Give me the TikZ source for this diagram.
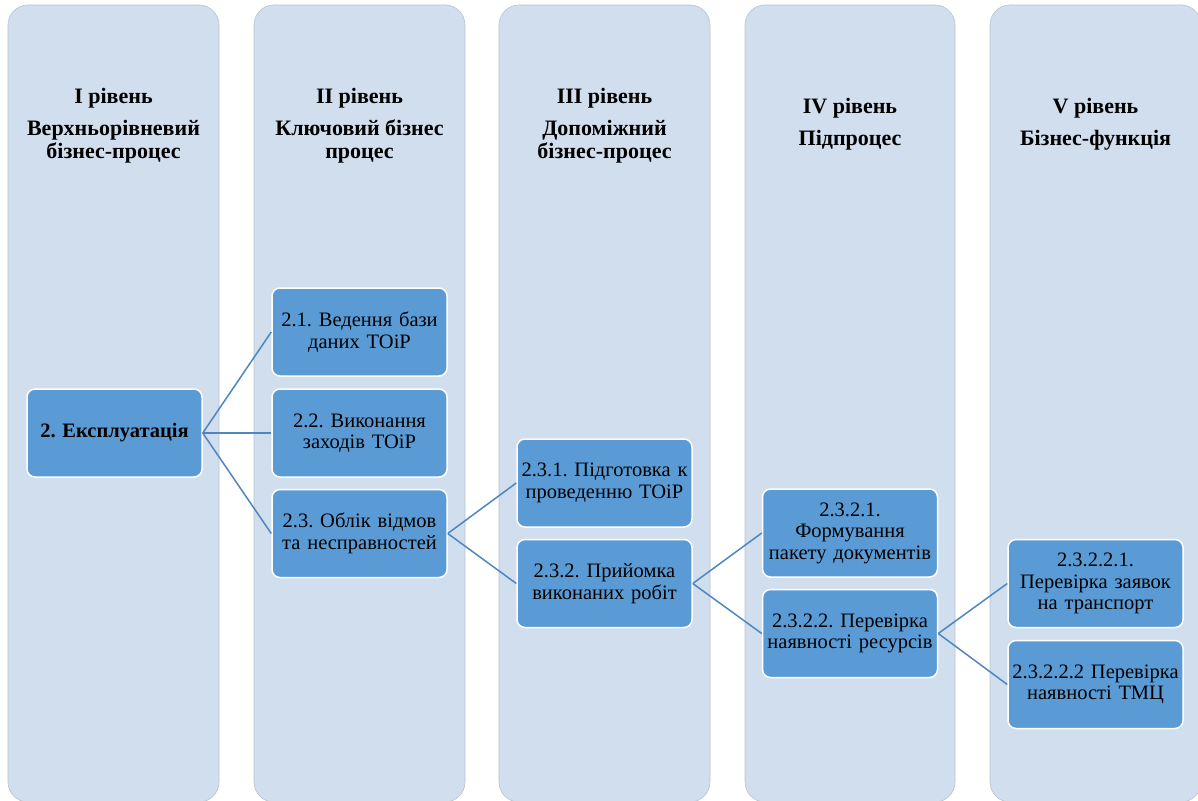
\documentclass[tikz,border=0pt]{standalone}
\usepackage{fontspec}
\setmainfont{Liberation Serif}
\definecolor{colbg}{HTML}{D1DEEE}
\definecolor{colbd}{HTML}{B7C3D0}
\definecolor{boxbg}{HTML}{5B9BD5}
\definecolor{linec}{HTML}{4F86BE}
\frenchspacing
\begin{document}
\begin{tikzpicture}[x=1pt,y=-1pt,
  col/.style={fill=colbg, draw=colbd, line width=0.6pt, rounded corners=20pt},
  box/.style={rectangle, fill=boxbg, draw=white, line width=1.5pt, rounded corners=8pt,
    minimum width=175pt, minimum height=88pt, text width=172pt, align=center,
    font=\fontsize{20.5}{21.5}\selectfont, inner sep=0pt},
  hdr/.style={align=center, font=\bfseries\fontsize{22}{23}\selectfont, inner sep=0pt},
  link/.style={draw=linec, line width=1.5pt}]
\useasboundingbox (0,0) rectangle (1198,800);
\clip (0,0) rectangle (1198,800);
% columns
\path[col] (8,5) rectangle (219,802);
\path[col] (254,5) rectangle (465,802);
\path[col] (499,5) rectangle (710,802);
\path[col] (745,5) rectangle (955,802);
\path[col] (990,5) rectangle (1201,802);
% headers
\node[hdr] (h1) at (113.5,98) {I рівень};
\node[hdr] (s1) at (113.5,141.5) {Верхньорівневий\\бізнес-процес};
\node[hdr] (h2) at (359.5,98) {II рівень};
\node[hdr] (s2) at (359.5,141.5) {Ключовий бізнес\\процес};
\node[hdr] (h3) at (604.5,98) {III рівень};
\node[hdr] (s3) at (604.5,141.5) {Допоміжний\\бізнес-процес};
\node[hdr] (h4) at (850,108) {IV рівень};
\node[hdr] (s4) at (850,140) {Підпроцес};
\node[hdr] (h5) at (1095.5,108) {V рівень};
\node[hdr] (s5) at (1095.5,140) {Бізнес-функція};
% boxes
\node[box, font=\bfseries\fontsize{20.5}{21.5}\selectfont] (e) at (114.5,433) {2. Експлуатація};
\node[box] (b21) at (359.5,332) {2.1. Ведення бази\\даних ТОіР};
\node[box] (b22) at (359.5,433) {2.2. Виконання\\заходів ТОіР};
\node[box] (b23) at (359.5,533.5) {2.3. Облік відмов\\та несправностей};
\node[box] (b231) at (604.5,483) {2.3.1. Підготовка к\\проведенню ТОіР};
\node[box] (b232) at (604.5,583.5) {2.3.2. Прийомка\\виконаних робіт};
\node[box] (b2321) at (850,533) {2.3.2.1.\\Формування\\пакету документів};
\node[box] (b2322) at (850,633.5) {2.3.2.2. Перевірка\\наявності ресурсів};
\node[box] (b23221) at (1095.5,583.5) {2.3.2.2.1.\\Перевірка заявок\\на транспорт};
\node[box] (b23222) at (1095.5,684.5) {2.3.2.2.2 Перевірка\\наявності ТМЦ};
% links
\draw[link] (e.east) -- (b21.west);
\draw[link] (e.east) -- (b22.west);
\draw[link] (e.east) -- (b23.west);
\draw[link] (b23.east) -- (b231.west);
\draw[link] (b23.east) -- (b232.west);
\draw[link] (b232.east) -- (b2321.west);
\draw[link] (b232.east) -- (b2322.west);
\draw[link] (b2322.east) -- (b23221.west);
\draw[link] (b2322.east) -- (b23222.west);
\end{tikzpicture}
\end{document}
